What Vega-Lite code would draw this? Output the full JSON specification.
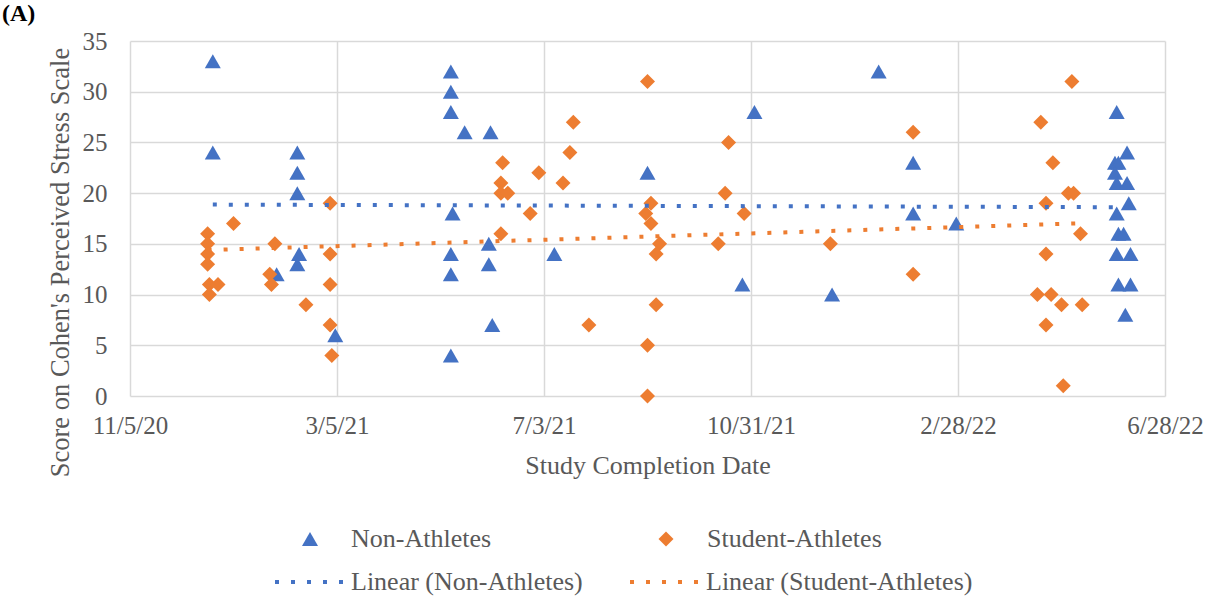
{
  "$schema": "https://vega.github.io/schema/vega-lite/v6.json",
  "width": 1035,
  "height": 355,
  "autosize": {"type": "none"},
  "padding": {"left": 130, "top": 41, "right": 58, "bottom": 212},
  "background": "white",
  "title": {
    "text": "(A)",
    "anchor": "start",
    "frame": "group",
    "font": "Liberation Serif",
    "fontSize": 24,
    "fontWeight": "bold",
    "color": "#000000",
    "baseline": "alphabetic",
    "dx": -128,
    "offset": 22,
    "dy": 38
  },
  "config": {
    "view": {"stroke": null},
    "font": "Liberation Serif"
  },
  "datasets": {
    "points": [
      {"date": "2020-12-23", "score": 33, "group": "Non-Athletes"},
      {"date": "2020-12-23", "score": 24, "group": "Non-Athletes"},
      {"date": "2021-01-29", "score": 12, "group": "Non-Athletes"},
      {"date": "2021-02-10", "score": 24, "group": "Non-Athletes"},
      {"date": "2021-02-10", "score": 22, "group": "Non-Athletes"},
      {"date": "2021-02-10", "score": 20, "group": "Non-Athletes"},
      {"date": "2021-02-11", "score": 14, "group": "Non-Athletes"},
      {"date": "2021-02-10", "score": 13, "group": "Non-Athletes"},
      {"date": "2021-03-04", "score": 6, "group": "Non-Athletes"},
      {"date": "2021-05-10", "score": 32, "group": "Non-Athletes"},
      {"date": "2021-05-10", "score": 30, "group": "Non-Athletes"},
      {"date": "2021-05-10", "score": 28, "group": "Non-Athletes"},
      {"date": "2021-05-11", "score": 18, "group": "Non-Athletes"},
      {"date": "2021-05-10", "score": 14, "group": "Non-Athletes"},
      {"date": "2021-05-10", "score": 12, "group": "Non-Athletes"},
      {"date": "2021-05-10", "score": 4, "group": "Non-Athletes"},
      {"date": "2021-05-18", "score": 26, "group": "Non-Athletes"},
      {"date": "2021-06-02", "score": 26, "group": "Non-Athletes"},
      {"date": "2021-06-01", "score": 15, "group": "Non-Athletes"},
      {"date": "2021-06-01", "score": 13, "group": "Non-Athletes"},
      {"date": "2021-06-03", "score": 7, "group": "Non-Athletes"},
      {"date": "2021-07-09", "score": 14, "group": "Non-Athletes"},
      {"date": "2021-09-01", "score": 22, "group": "Non-Athletes"},
      {"date": "2021-10-26", "score": 11, "group": "Non-Athletes"},
      {"date": "2021-11-02", "score": 28, "group": "Non-Athletes"},
      {"date": "2021-12-17", "score": 10, "group": "Non-Athletes"},
      {"date": "2022-01-13", "score": 32, "group": "Non-Athletes"},
      {"date": "2022-02-02", "score": 23, "group": "Non-Athletes"},
      {"date": "2022-02-02", "score": 18, "group": "Non-Athletes"},
      {"date": "2022-02-27", "score": 17, "group": "Non-Athletes"},
      {"date": "2022-05-31", "score": 28, "group": "Non-Athletes"},
      {"date": "2022-06-06", "score": 24, "group": "Non-Athletes"},
      {"date": "2022-05-30", "score": 23, "group": "Non-Athletes"},
      {"date": "2022-06-01", "score": 23, "group": "Non-Athletes"},
      {"date": "2022-05-30", "score": 22, "group": "Non-Athletes"},
      {"date": "2022-05-31", "score": 21, "group": "Non-Athletes"},
      {"date": "2022-06-06", "score": 21, "group": "Non-Athletes"},
      {"date": "2022-06-07", "score": 19, "group": "Non-Athletes"},
      {"date": "2022-05-31", "score": 18, "group": "Non-Athletes"},
      {"date": "2022-06-01", "score": 16, "group": "Non-Athletes"},
      {"date": "2022-06-04", "score": 16, "group": "Non-Athletes"},
      {"date": "2022-05-31", "score": 14, "group": "Non-Athletes"},
      {"date": "2022-06-08", "score": 14, "group": "Non-Athletes"},
      {"date": "2022-06-01", "score": 11, "group": "Non-Athletes"},
      {"date": "2022-06-08", "score": 11, "group": "Non-Athletes"},
      {"date": "2022-06-05", "score": 8, "group": "Non-Athletes"},
      {"date": "2020-12-20", "score": 16, "group": "Student-Athletes"},
      {"date": "2020-12-20", "score": 15, "group": "Student-Athletes"},
      {"date": "2020-12-20", "score": 14, "group": "Student-Athletes"},
      {"date": "2020-12-20", "score": 13, "group": "Student-Athletes"},
      {"date": "2020-12-21", "score": 11, "group": "Student-Athletes"},
      {"date": "2020-12-21", "score": 10, "group": "Student-Athletes"},
      {"date": "2020-12-26", "score": 11, "group": "Student-Athletes"},
      {"date": "2021-01-04", "score": 17, "group": "Student-Athletes"},
      {"date": "2021-01-28", "score": 15, "group": "Student-Athletes"},
      {"date": "2021-01-25", "score": 12, "group": "Student-Athletes"},
      {"date": "2021-01-26", "score": 11, "group": "Student-Athletes"},
      {"date": "2021-02-15", "score": 9, "group": "Student-Athletes"},
      {"date": "2021-03-01", "score": 19, "group": "Student-Athletes"},
      {"date": "2021-03-01", "score": 14, "group": "Student-Athletes"},
      {"date": "2021-03-01", "score": 11, "group": "Student-Athletes"},
      {"date": "2021-03-01", "score": 7, "group": "Student-Athletes"},
      {"date": "2021-03-02", "score": 4, "group": "Student-Athletes"},
      {"date": "2021-06-09", "score": 23, "group": "Student-Athletes"},
      {"date": "2021-06-08", "score": 21, "group": "Student-Athletes"},
      {"date": "2021-06-08", "score": 20, "group": "Student-Athletes"},
      {"date": "2021-06-08", "score": 16, "group": "Student-Athletes"},
      {"date": "2021-06-12", "score": 20, "group": "Student-Athletes"},
      {"date": "2021-06-25", "score": 18, "group": "Student-Athletes"},
      {"date": "2021-06-30", "score": 22, "group": "Student-Athletes"},
      {"date": "2021-07-14", "score": 21, "group": "Student-Athletes"},
      {"date": "2021-07-18", "score": 24, "group": "Student-Athletes"},
      {"date": "2021-07-20", "score": 27, "group": "Student-Athletes"},
      {"date": "2021-07-29", "score": 7, "group": "Student-Athletes"},
      {"date": "2021-09-01", "score": 31, "group": "Student-Athletes"},
      {"date": "2021-09-01", "score": 5, "group": "Student-Athletes"},
      {"date": "2021-09-01", "score": 0, "group": "Student-Athletes"},
      {"date": "2021-08-31", "score": 18, "group": "Student-Athletes"},
      {"date": "2021-09-03", "score": 19, "group": "Student-Athletes"},
      {"date": "2021-09-03", "score": 17, "group": "Student-Athletes"},
      {"date": "2021-09-08", "score": 15, "group": "Student-Athletes"},
      {"date": "2021-09-06", "score": 14, "group": "Student-Athletes"},
      {"date": "2021-09-06", "score": 9, "group": "Student-Athletes"},
      {"date": "2021-10-12", "score": 15, "group": "Student-Athletes"},
      {"date": "2021-10-16", "score": 20, "group": "Student-Athletes"},
      {"date": "2021-10-18", "score": 25, "group": "Student-Athletes"},
      {"date": "2021-10-27", "score": 18, "group": "Student-Athletes"},
      {"date": "2021-12-16", "score": 15, "group": "Student-Athletes"},
      {"date": "2022-02-02", "score": 26, "group": "Student-Athletes"},
      {"date": "2022-02-02", "score": 12, "group": "Student-Athletes"},
      {"date": "2022-04-15", "score": 10, "group": "Student-Athletes"},
      {"date": "2022-04-17", "score": 27, "group": "Student-Athletes"},
      {"date": "2022-04-20", "score": 19, "group": "Student-Athletes"},
      {"date": "2022-04-20", "score": 14, "group": "Student-Athletes"},
      {"date": "2022-04-20", "score": 7, "group": "Student-Athletes"},
      {"date": "2022-04-23", "score": 10, "group": "Student-Athletes"},
      {"date": "2022-04-24", "score": 23, "group": "Student-Athletes"},
      {"date": "2022-04-29", "score": 9, "group": "Student-Athletes"},
      {"date": "2022-04-30", "score": 1, "group": "Student-Athletes"},
      {"date": "2022-05-03", "score": 20, "group": "Student-Athletes"},
      {"date": "2022-05-05", "score": 31, "group": "Student-Athletes"},
      {"date": "2022-05-06", "score": 20, "group": "Student-Athletes"},
      {"date": "2022-05-10", "score": 16, "group": "Student-Athletes"},
      {"date": "2022-05-11", "score": 9, "group": "Student-Athletes"}
    ],
    "trends": [
      {"date": "2020-12-23", "score": 18.87, "series": "Linear (Non-Athletes)"},
      {"date": "2022-06-08", "score": 18.61, "series": "Linear (Non-Athletes)"},
      {"date": "2020-12-20", "score": 14.39, "series": "Linear (Student-Athletes)"},
      {"date": "2022-05-11", "score": 17.03, "series": "Linear (Student-Athletes)"}
    ]
  },
  "encoding": {
    "x": {
      "field": "date",
      "type": "temporal",
      "scale": {
        "type": "utc",
        "domain": [
          {"year": 2020, "month": 11, "date": 5, "utc": true},
          {"year": 2022, "month": 6, "date": 28, "utc": true}
        ],
        "nice": false
      },
      "axis": {
        "values": [
          {"year": 2020, "month": 11, "date": 5, "utc": true},
          {"year": 2021, "month": 3, "date": 5, "utc": true},
          {"year": 2021, "month": 7, "date": 3, "utc": true},
          {"year": 2021, "month": 10, "date": 31, "utc": true},
          {"year": 2022, "month": 2, "date": 28, "utc": true},
          {"year": 2022, "month": 6, "date": 28, "utc": true}
        ],
        "format": "%-m/%-d/%y",
        "grid": true,
        "gridColor": "#d9d9d9",
        "gridWidth": 1.5,
        "domain": false,
        "ticks": false,
        "labelFont": "Liberation Serif",
        "labelFontSize": 25,
        "labelColor": "#595959",
        "labelPadding": 17,
        "labelFlush": false,
        "labelOverlap": false,
        "title": "Study Completion Date",
        "titleFont": "Liberation Serif",
        "titleFontSize": 26,
        "titleFontWeight": "normal",
        "titleColor": "#595959",
        "titleBaseline": "alphabetic",
        "titleY": 77
      }
    },
    "y": {
      "field": "score",
      "type": "quantitative",
      "scale": {"domain": [0, 35], "nice": false, "zero": true},
      "axis": {
        "values": [0, 5, 10, 15, 20, 25, 30, 35],
        "grid": true,
        "gridColor": "#d9d9d9",
        "gridWidth": 1.5,
        "domain": false,
        "ticks": false,
        "labelFont": "Liberation Serif",
        "labelFontSize": 25,
        "labelColor": "#595959",
        "labelPadding": 23,
        "title": "Score on Cohen's Perceived Stress Scale",
        "titleFont": "Liberation Serif",
        "titleFontSize": 26.5,
        "titleFontWeight": "normal",
        "titleColor": "#595959",
        "titleAngle": 270,
        "titleAlign": "center",
        "titleBaseline": "alphabetic",
        "titleX": -62,
        "titleY": 221
      }
    }
  },
  "layer": [
    {
      "data": {"name": "points"},
      "mark": {"type": "point", "filled": true, "size": 400, "opacity": 1, "strokeWidth": 0},
      "encoding": {
        "color": {
          "field": "group",
          "type": "nominal",
          "scale": {"domain": ["Non-Athletes", "Student-Athletes"], "range": ["#4472C4", "#ED7D31"]},
          "legend": {
            "orient": "none",
            "legendX": 167,
            "legendY": 485,
            "direction": "horizontal",
            "title": null,
            "padding": 0,
            "labelFont": "Liberation Serif",
            "labelFontSize": 26,
            "labelColor": "#595959",
            "labelOffset": 28,
            "labelLimit": 500,
            "columnPadding": 161,
            "symbolSize": 400,
            "symbolStrokeWidth": 0,
            "symbolOpacity": 1
          }
        },
        "shape": {
          "field": "group",
          "type": "nominal",
          "scale": {
            "domain": ["Non-Athletes", "Student-Athletes"],
            "range": ["M0,-0.7L0.8,0.7L-0.8,0.7Z", "M0,-0.75L0.75,0L0,0.75L-0.75,0Z"]
          },
          "legend": {
            "orient": "none",
            "legendX": 167,
            "legendY": 485,
            "direction": "horizontal",
            "title": null,
            "padding": 0,
            "labelFont": "Liberation Serif",
            "labelFontSize": 26,
            "labelColor": "#595959",
            "labelOffset": 28,
            "labelLimit": 500,
            "columnPadding": 161,
            "symbolSize": 400,
            "symbolStrokeWidth": 0,
            "symbolOpacity": 1
          }
        }
      }
    },
    {
      "data": {"name": "trends"},
      "mark": {"type": "line", "strokeDash": [4, 12], "strokeWidth": 4, "strokeCap": "butt"},
      "encoding": {
        "stroke": {
          "field": "series",
          "type": "nominal",
          "scale": {"domain": ["Linear (Non-Athletes)", "Linear (Student-Athletes)"], "range": ["#4472C4", "#ED7D31"]},
          "legend": {
            "orient": "none",
            "legendX": 143,
            "legendY": 504,
            "direction": "horizontal",
            "title": null,
            "padding": 0,
            "labelFont": "Liberation Serif",
            "labelFontSize": 26,
            "labelColor": "#595959",
            "labelOffset": 4,
            "labelLimit": 500,
            "columnPadding": 39,
            "symbolType": "stroke",
            "symbolSize": 4900,
            "symbolStrokeWidth": 4,
            "symbolDash": [4, 12]
          }
        }
      }
    }
  ]
}
